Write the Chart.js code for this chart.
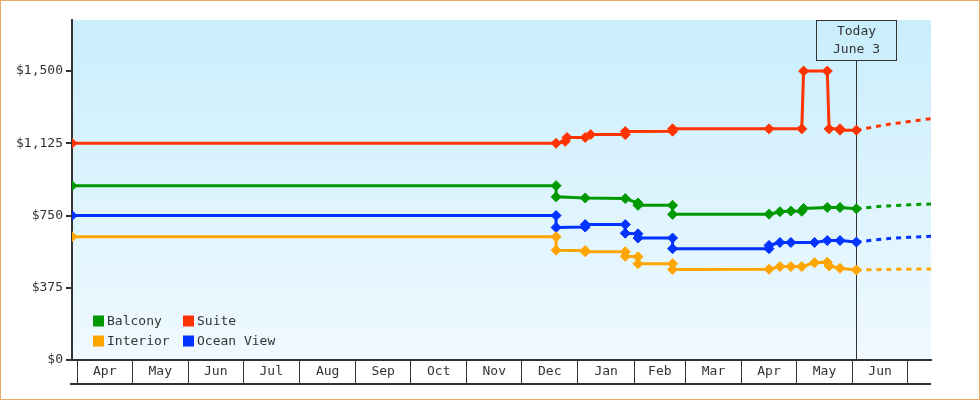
<!DOCTYPE html>
<html><head><meta charset="utf-8">
<script src="https://cdn.jsdelivr.net/npm/chart.js@4.4.0/dist/chart.umd.min.js"></script>
<style>html,body{margin:0;padding:0;background:#fff}#wrap{width:980px;height:400px;position:relative}</style>
</head><body><div id="wrap"><canvas id="c"></canvas></div>
<script>
// ---------- data ----------
const seriesNames = ['Balcony', 'Suite', 'Interior', 'Ocean View'];
const seriesColors = ['#009900', '#ff3300', '#ffa500', '#0033ff'];

const balconyDates = ['2022-03-29','2022-12-20','2022-12-20','2023-01-05','2023-01-27','2023-02-03','2023-02-03','2023-02-22','2023-02-22','2023-04-16','2023-04-22','2023-04-28','2023-05-04','2023-05-05','2023-05-18','2023-05-25','2023-06-03'];
const balconyValues = [905,905,847,841,838,815,803,803,756,757,770,773,772,787,792,792,785];

const suiteDates = ['2022-03-29','2022-12-20','2022-12-25','2022-12-26','2023-01-05','2023-01-08','2023-01-27','2023-01-27','2023-02-22','2023-02-22','2023-04-16','2023-05-04','2023-05-05','2023-05-18','2023-05-19','2023-05-25','2023-05-25','2023-06-03'];
const suiteValues = [1125,1125,1135,1155,1155,1170,1170,1186,1188,1200,1200,1200,1500,1500,1200,1200,1193,1193];

const interiorDates = ['2022-03-29','2022-12-20','2022-12-20','2023-01-05','2023-01-05','2023-01-27','2023-01-27','2023-02-03','2023-02-03','2023-02-22','2023-02-22','2023-04-16','2023-04-22','2023-04-28','2023-05-04','2023-05-11','2023-05-18','2023-05-19','2023-05-25','2023-06-03'];
const interiorValues = [640,640,570,568,562,562,538,536,500,500,470,471,485,485,485,505,508,488,476,467];

const oceanDates = ['2022-03-29','2022-12-20','2022-12-20','2023-01-05','2023-01-05','2023-01-27','2023-01-27','2023-02-03','2023-02-03','2023-02-22','2023-02-22','2023-04-16','2023-04-16','2023-04-22','2023-04-28','2023-05-11','2023-05-18','2023-05-25','2023-06-03'];
const oceanValues = [750,750,688,690,703,703,658,655,633,633,578,578,595,610,610,610,620,620,612];

// projection after today
const projDates = ['2023-06-03','2023-06-20','2023-07-14'];
const balconyProj = [785,800,810];
const suiteProj = [1193,1222,1253];
const interiorProj = [467,470,473];
const oceanProj = [612,630,642];

const todayDate = '2023-06-03';
const todayLines = ['Today', 'June 3'];

const xStart = '2022-03-29';
const xEnd = '2023-07-14';
const monthStarts = ['2022-04-01','2022-05-01','2022-06-01','2022-07-01','2022-08-01','2022-09-01','2022-10-01','2022-11-01','2022-12-01','2023-01-01','2023-02-01','2023-03-01','2023-04-01','2023-05-01','2023-06-01','2023-07-01'];
const monthLabels = ['Apr','May','Jun','Jul','Aug','Sep','Oct','Nov','Dec','Jan','Feb','Mar','Apr','May','Jun'];
const yTicks = [0, 375, 750, 1125, 1500];

// ---------- helpers ----------
function dayNum(s){ const [y,m,d] = s.split('-').map(Number); return (Date.UTC(y,m-1,d) - Date.UTC(2022,3,1)) / 864e5; }
function pts(dates, vals){ return dates.map((d,i)=>({x: dayNum(d), y: vals[i]})); }

const xTickObjs = [];
monthStarts.forEach((m,i)=>{
  xTickObjs.push({value: dayNum(m), sep: true, lab: ''});
  if (i < monthLabels.length) xTickObjs.push({value: (dayNum(m)+dayNum(monthStarts[i+1]))/2, sep: false, lab: monthLabels[i]});
});

const FONT = '"DejaVu Sans Mono", monospace';
const TXT = '#333';

const mainSets = [
  [balconyDates, balconyValues], [suiteDates, suiteValues], [interiorDates, interiorValues], [oceanDates, oceanValues]
].map((s,i)=>({
  label: seriesNames[i], data: pts(s[0], s[1]),
  borderColor: seriesColors[i], backgroundColor: seriesColors[i],
  pointBackgroundColor: seriesColors[i], pointBorderColor: seriesColors[i],
  borderWidth: 3, pointStyle: 'rectRot', pointRadius: 5, pointBorderWidth: 1, tension: 0
}));
const projSets = [balconyProj, suiteProj, interiorProj, oceanProj].map((v,i)=>({
  label: seriesNames[i] + ' projection', data: pts(projDates, v),
  borderColor: seriesColors[i], borderWidth: 3, borderDash: [5,5], pointRadius: 0, tension: 0.3
}));

const deco = {
  id: 'deco',
  beforeDraw(chart){
    const {ctx, chartArea: a, width, height} = chart;
    ctx.save();
    ctx.fillStyle = '#fff'; ctx.fillRect(0,0,width,height);
    const g = ctx.createLinearGradient(0, a.top, 0, a.bottom);
    g.addColorStop(0, '#c9eefc'); g.addColorStop(1, '#f0f9ff');
    ctx.fillStyle = g; ctx.fillRect(a.left, a.top, a.right-a.left, a.bottom-a.top);
    ctx.strokeStyle = '#e6ab6e'; ctx.lineWidth = 1; ctx.strokeRect(0.5,0.5,width-1,height-1);
    ctx.restore();
  },
  beforeDatasetsDraw(chart){
    const {ctx, chartArea: a, scales: {x}} = chart;
    const px = Math.round(x.getPixelForValue(dayNum(todayDate))) + 0.5;
    ctx.save(); ctx.strokeStyle = TXT; ctx.lineWidth = 1;
    ctx.beginPath(); ctx.moveTo(px, a.top + 40); ctx.lineTo(px, a.bottom); ctx.stroke();
    ctx.restore();
  },
  afterDraw(chart){
    const {ctx, chartArea: a, scales: {x, y}} = chart;
    ctx.save();
    // bottom line of month boxes
    ctx.fillStyle = TXT;
    ctx.fillRect(y.right - 2, a.bottom + 23, a.right - y.right + 2, 2);
    // today box
    const px = Math.round(x.getPixelForValue(dayNum(todayDate))) + 0.5;
    ctx.strokeStyle = TXT; ctx.lineWidth = 1;
    ctx.strokeRect(px - 40, a.top + 0.5, 80, 40);
    ctx.font = '13px ' + FONT; ctx.textAlign = 'center'; ctx.textBaseline = 'middle'; ctx.fillStyle = TXT;
    ctx.fillText(todayLines[0], px, a.top + 12);
    ctx.fillText(todayLines[1], px, a.top + 30);
    // legend 2x2
    ctx.textAlign = 'left';
    chart.data.datasets.slice(0,4).forEach((ds,i)=>{
      const col = i % 2, row = Math.floor(i/2);
      const sx = a.left + 21 + col*90, cy = a.bottom - 39 + row*20;
      ctx.fillStyle = ds.borderColor; ctx.fillRect(sx, cy - 5.5, 11, 11);
      ctx.fillStyle = TXT; ctx.fillText(ds.label, sx + 14, cy + 0.5);
    });
    ctx.restore();
  }
};

new Chart(document.getElementById('c'), {
  type: 'line',
  data: { datasets: mainSets.concat(projSets) },
  plugins: [deco],
  options: {
    responsive: true, maintainAspectRatio: false, animation: false,
    layout: { padding: { top: 20, right: 49, left: 0, bottom: 0 } },
    plugins: { legend: { display: false }, tooltip: { enabled: false } },
    scales: {
      x: {
        type: 'linear', min: dayNum(xStart), max: dayNum(xEnd), bounds: 'data',
        afterBuildTicks(s){ s.ticks = xTickObjs.map(t=>({value: t.value, sep: t.sep})); },
        afterFit(s){ s.height = 40; },
        grid: { display: true, drawOnChartArea: false, drawTicks: true, tickLength: 24, tickWidth: 1,
          tickColor: c => (c.tick && c.tick.sep) ? TXT : 'rgba(0,0,0,0)', color: TXT, lineWidth: 1 },
        border: { display: true, color: TXT, width: 2 },
        ticks: { autoSkip: false, maxRotation: 0, minRotation: 0, padding: -20, color: TXT,
          font: { family: FONT, size: 13 }, callback: (v, i) => xTickObjs[i] ? xTickObjs[i].lab : '' }
      },
      y: {
        min: 0, max: 1765,
        afterBuildTicks(s){ s.ticks = yTicks.map(v=>({value: v})); },
        afterFit(s){ s.width = 72; },
        grid: { display: true, drawOnChartArea: false, drawTicks: true, tickLength: 6, lineWidth: 2, color: TXT },
        border: { display: true, color: TXT, width: 2 },
        ticks: { padding: 3, color: TXT, font: { family: FONT, size: 13 },
          callback: v => '$' + Number(v).toLocaleString('en-US') }
      }
    }
  }
});
</script>
</body></html>
